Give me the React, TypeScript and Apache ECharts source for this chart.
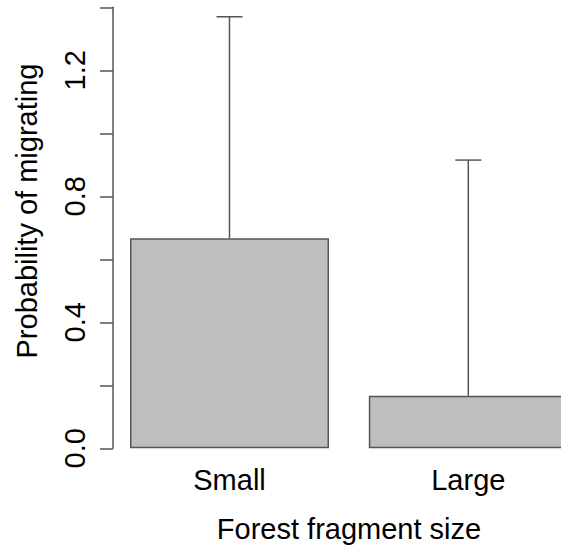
import React, { useEffect, useRef } from "react";
import * as echarts from "echarts";

const categories = ["Small", "Large"];
const barPositions = [0.7, 1.9];
const means = [0.667, 0.1667];
const upper = [1.37, 0.915];
const yTickLabels = ["0.0", "0.4", "0.8", "1.2"];

const FONT = "'Liberation Sans', Arial, Helvetica, sans-serif";
const LINE = "#555555";
const FS = 29;

export default function App() {
  const ref = useRef<HTMLDivElement>(null);
  useEffect(() => {
    if (!ref.current) return;
    const chart = echarts.init(ref.current, undefined, { renderer: "svg" });
    const barData = categories.map((_, i) => [barPositions[i], means[i]]);
    const errData = categories.map((_, i) => [barPositions[i], means[i], upper[i]]);
    chart.setOption({
      animation: false,
      backgroundColor: "#ffffff",
      grid: { left: 113, top: 7.3, right: 0, height: 441 },
      xAxis: {
        type: "value",
        min: 0.1146,
        max: 2.3658,
        axisLine: { show: false },
        axisTick: { show: false },
        splitLine: { show: false },
        axisLabel: {
          fontSize: FS,
          color: "#000",
          fontFamily: FONT,
          margin: 17,
          customValues: barPositions,
          formatter: (v: number) => {
            const i = barPositions.findIndex((p) => Math.abs(p - v) < 1e-6);
            return i >= 0 ? categories[i] : "";
          },
        },
      },
      yAxis: {
        type: "value",
        min: 0,
        max: 1.4,
        interval: 0.2,
        axisLine: { show: true, lineStyle: { color: LINE, width: 1.5 } },
        axisTick: { show: true, length: 13, lineStyle: { color: LINE, width: 1.5 } },
        splitLine: { show: false },
        axisLabel: {
          fontSize: FS,
          color: "#000",
          fontFamily: FONT,
          rotate: 90,
          margin: 24,
          formatter: (v: number) => {
            const s = v.toFixed(1);
            return yTickLabels.includes(s) ? s : "";
          },
        },
      },
      graphic: [
        {
          type: "text",
          x: 27,
          y: 211,
          rotation: Math.PI / 2,
          style: {
            text: "Probability of migrating",
            fontSize: FS,
            fontFamily: FONT,
            fill: "#000",
            textAlign: "center",
            textVerticalAlign: "middle",
          },
        },
        {
          type: "text",
          x: 349,
          y: 529,
          style: {
            text: "Forest fragment size",
            fontSize: FS,
            fontFamily: FONT,
            fill: "#000",
            textAlign: "center",
            textVerticalAlign: "middle",
          },
        },
      ],
      series: [
        {
          type: "bar",
          data: barData,
          barWidth: 199,
          itemStyle: { color: "#bebebe", borderColor: LINE, borderWidth: 1.5 },
          z: 2,
        },
        {
          type: "custom",
          data: errData,
          z: 3,
          renderItem: (params: any, api: any) => {
            const x = api.value(0);
            const lo = api.coord([x, api.value(1)]);
            const hi = api.coord([x, api.value(2)]);
            const style = { stroke: LINE, lineWidth: 1.5 };
            return {
              type: "group",
              children: [
                { type: "line", shape: { x1: lo[0], y1: lo[1], x2: hi[0], y2: hi[1] }, style },
                { type: "line", shape: { x1: hi[0] - 13, y1: hi[1], x2: hi[0] + 13, y2: hi[1] }, style },
              ],
            };
          },
        },
      ],
    });
    return () => chart.dispose();
  }, []);
  return (
    <div
      ref={ref}
      style={{ position: "absolute", left: 0, top: 0, width: 561, height: 552 }}
    />
  );
}
